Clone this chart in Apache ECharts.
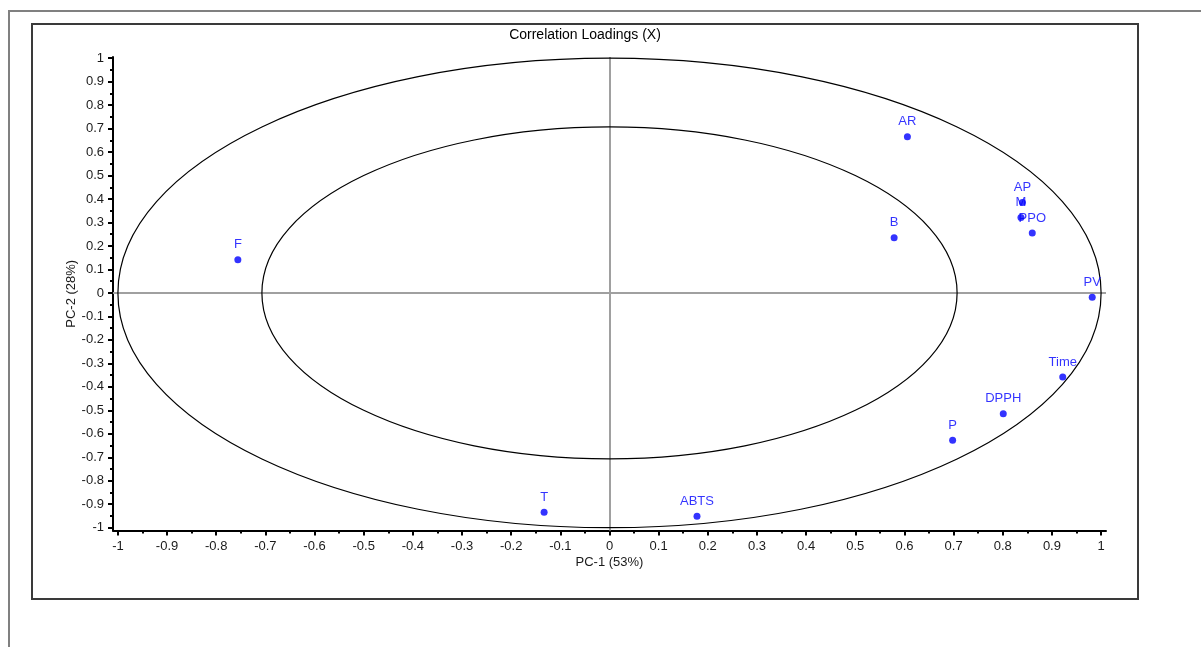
<!DOCTYPE html>
<html>
<head>
<meta charset="utf-8">
<script src="https://cdn.jsdelivr.net/npm/echarts@6/dist/echarts.min.js"></script>
<style>
html,body{margin:0;padding:0;background:#fff;}
#main{width:1201px;height:647px;}
</style>
</head>
<body>
<div id="main"></div>
<script>
// ---- data ----
const variableNames = ['AR','AP','M','PPO','B','PV','Time','DPPH','P','F','T','ABTS'];
const pc1Values = [0.606, 0.840, 0.837, 0.860, 0.579, 0.982, 0.922, 0.801, 0.698, -0.756, -0.133, 0.178];
const pc2Values = [0.665, 0.385, 0.321, 0.255, 0.235, -0.018, -0.358, -0.515, -0.628, 0.141, -0.934, -0.951];
const xTickValues = [-1,-0.9,-0.8,-0.7,-0.6,-0.5,-0.4,-0.3,-0.2,-0.1,0,0.1,0.2,0.3,0.4,0.5,0.6,0.7,0.8,0.9,1];
const yTickValues = [-1,-0.9,-0.8,-0.7,-0.6,-0.5,-0.4,-0.3,-0.2,-0.1,0,0.1,0.2,0.3,0.4,0.5,0.6,0.7,0.8,0.9,1];
const circleRadii = [1, 0.7071];
const titleText = 'Correlation Loadings (X)';
const xAxisName = 'PC-1 (53%)';
const yAxisName = 'PC-2 (28%)';

function midpoints(arr){
  const out = [];
  for (let i = 0; i < arr.length - 1; i++) out.push(Math.round((arr[i] + arr[i+1]) * 500) / 1000);
  return out;
}
const xMinor = midpoints(xTickValues);
const yMinor = midpoints(yTickValues);

const points = variableNames.map((n, i) => ({name: n, value: [pc1Values[i], pc2Values[i]]}));

const FONT = 'Liberation Sans, Arial, sans-serif';
const XMIN = -1.01, XMAX = 1.01, YMIN = -1.012, YMAX = 1.005;

const chart = echarts.init(document.getElementById('main'), null, {renderer: 'canvas'});

function majorAxis(extra){
  return Object.assign({
    type: 'value',
    axisLine: {show: true, onZero: false, lineStyle: {color: '#000', width: 2}},
    splitLine: {show: false},
    nameTextStyle: {color: '#1a1a1a', fontSize: 13, fontFamily: FONT},
    nameLocation: 'middle',
    nameMoveOverlap: false
  }, extra);
}
function minorAxis(extra){
  return Object.assign({
    type: 'value',
    axisLine: {show: false, onZero: false},
    splitLine: {show: false},
    axisLabel: {show: false}
  }, extra);
}

const option = {
  animation: false,
  backgroundColor: '#fff',
  title: {
    text: titleText,
    left: 585, top: 28, textAlign: 'center', padding: 0,
    textStyle: {color: '#000', fontSize: 14, fontWeight: 'normal', fontFamily: FONT}
  },
  graphic: [
    {type: 'polyline', silent: true, shape: {points: [[9, 647], [9, 11], [1201, 11]]},
     style: {stroke: '#808080', lineWidth: 2, fill: null}},
    {type: 'rect', silent: true, shape: {x: 32, y: 24, width: 1106, height: 575},
     style: {stroke: '#3a3a3a', lineWidth: 2, fill: null}}
  ],
  grid: {left: 113, right: 95, top: 57, bottom: 116.5, containLabel: false},
  xAxis: [
    majorAxis({
      position: 'bottom', min: XMIN, max: XMAX,
      name: xAxisName, nameGap: 25,
      axisTick: {show: true, inside: false, length: 5, customValues: xTickValues, lineStyle: {color: '#000', width: 2}},
      axisLabel: {color: '#1a1a1a', fontSize: 13, fontFamily: FONT, margin: 9, customValues: xTickValues}
    }),
    minorAxis({
      position: 'bottom', min: XMIN, max: XMAX,
      axisTick: {show: true, inside: false, length: 3, customValues: xMinor, lineStyle: {color: '#000', width: 2}}
    })
  ],
  yAxis: [
    majorAxis({
      position: 'left', min: YMIN, max: YMAX,
      name: yAxisName, nameGap: 35,
      axisTick: {show: true, inside: false, length: 5, customValues: yTickValues, lineStyle: {color: '#000', width: 2}},
      axisLabel: {color: '#1a1a1a', fontSize: 13, fontFamily: FONT, margin: 9, customValues: yTickValues}
    }),
    minorAxis({
      position: 'left', min: YMIN, max: YMAX,
      axisTick: {show: true, inside: false, length: 3, customValues: yMinor, lineStyle: {color: '#000', width: 2}}
    })
  ],
  series: [
    {
      type: 'custom',
      xAxisIndex: 0, yAxisIndex: 0,
      silent: true,
      clip: false,
      data: circleRadii.map(r => [0, 0, r]),
      renderItem: function (params, api) {
        const c = api.coord([api.value(0), api.value(1)]);
        const r = api.value(2);
        const rx = api.size([r, 0])[0];
        const ry = api.size([0, r])[1];
        return {
          type: 'ellipse',
          shape: {cx: c[0], cy: c[1], rx: rx, ry: ry},
          style: {fill: null, stroke: '#000', lineWidth: 1.2}
        };
      },
      z: 2
    },
    {
      type: 'scatter',
      xAxisIndex: 0, yAxisIndex: 0,
      data: points,
      symbol: 'circle',
      symbolSize: 7,
      itemStyle: {color: '#0000ff'},
      label: {
        show: true, position: 'top', distance: 5,
        formatter: '{b}', color: '#0000ff', fontSize: 13, fontFamily: FONT
      },
      markLine: {
        silent: true,
        symbol: ['none', 'none'],
        label: {show: false},
        lineStyle: {color: '#a0a0a0', width: 2, type: 'solid'},
        data: [{xAxis: 0}, {yAxis: 0}],
        z: 1
      },
      z: 5
    }
  ]
};
chart.setOption(option);
</script>
</body>
</html>
